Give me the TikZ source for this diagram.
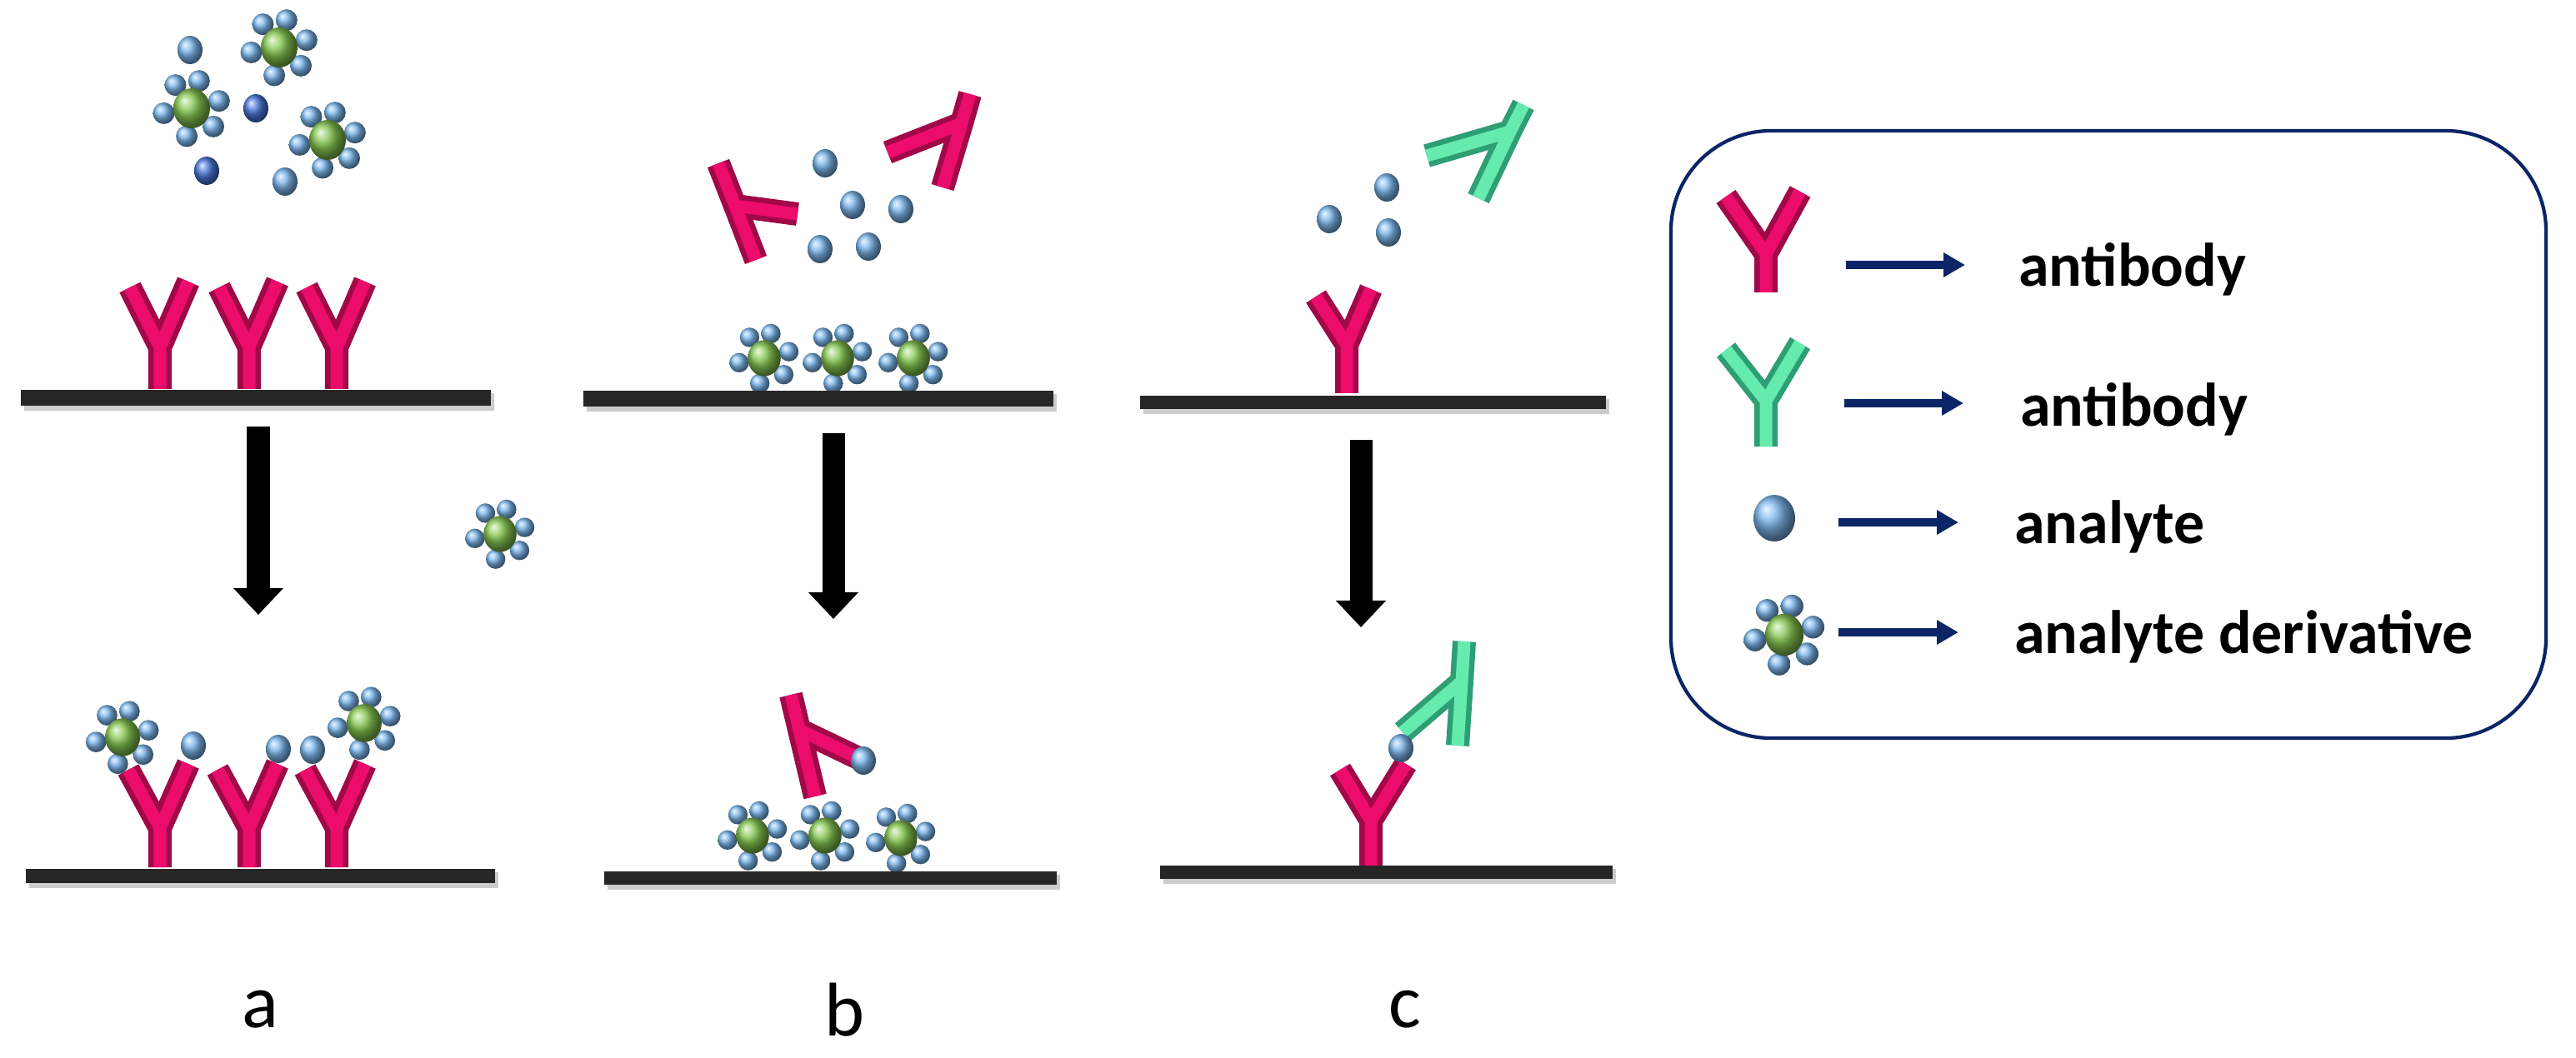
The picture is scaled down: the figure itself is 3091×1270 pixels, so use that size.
\documentclass[tikz,border=0pt]{standalone}
\usepackage{fontspec}
\setmainfont{Carlito}
\usetikzlibrary{arrows.meta}
\definecolor{abmain}{HTML}{EC0C6C}
\definecolor{abdark}{HTML}{A00848}
\definecolor{gbmain}{HTML}{66EBAE}
\definecolor{gbdark}{HTML}{2E9E74}
\definecolor{lblue}{HTML}{7DB8EE}
\definecolor{dblue}{HTML}{4A78DA}
\definecolor{dgreen}{HTML}{86C850}
\definecolor{navy}{HTML}{0B2566}
\newcommand\abody[5]{%
  \draw[line width=0.28cm,#1dark,line join=round] (#4)--(#2)--(#5) (#2)--(#3);
  \draw[line width=0.15cm,#1main,line join=round] (#4)--(#2)--(#5) (#2)--(#3);}
\newcommand\aball[2]{\shade[ball color=#2] (#1) ellipse [x radius=15,y radius=17];}
\newcommand\deriv[2]{\begin{scope}[shift={(#1)},scale=#2]
  \foreach \a in {100,40,-15,-75,-125,170}{\shade[ball color=lblue] (\a:34) circle [radius=13];}
  \shade[ball color=dgreen] (0,0) ellipse [x radius=22,y radius=24];
  \end{scope}}
\newcommand\sbar[4]{\fill[black!20] (#1+4,#3+4) rectangle (#2+4,#4+6);
  \fill[black!85] (#1,#3) rectangle (#2,#4);}
\tikzset{bigarrow/.style={line width=0.27cm,-{Triangle[length=0.32cm,width=0.58cm]}},
  legarrow/.style={navy,line width=0.1cm,-{Triangle[length=0.26cm,width=0.28cm]}},
  lab/.style={font=\fontsize{26}{30}\selectfont},
  leg/.style={font=\bfseries\fontsize{21}{24}\selectfont,anchor=west}}
\begin{document}
\begin{tikzpicture}[x=0.01cm,y=-0.01cm]
\useasboundingbox (0,0) rectangle (3091,1270);
% panel a
\deriv{230,130}{1}\deriv{335,57}{1}\deriv{393,168}{1}
\aball{228,60}{lblue}\aball{342,218}{lblue}\aball{307,130}{dblue}\aball{248,205}{dblue}
\foreach \x in {192,299,404}{\abody{ab}{\x,417}{\x,467}{\x-36,345}{\x+34,338}}
\sbar{25}{589}{468}{487}
\coordinate (a1) at (310,512); \coordinate (a2) at (310,738);
\draw[bigarrow] (a1)--(a2);
\deriv{600,641}{0.9}
\foreach \x in {192,299,404}{\abody{ab}{\x,994}{\x,1041}{\x-38,924}{\x+34,917}}
\deriv{147,885}{0.95}\deriv{437,868}{0.95}
\aball{232,895}{lblue}\aball{334,899}{lblue}\aball{375,900}{lblue}
\sbar{31}{594}{1043}{1060}
\node[lab] (la) at (312,1212) {a};
% panel b
\abody{ab}{882,247}{907,312}{862,196}{957,257}
\abody{ab}{1154,148}{1131,225}{1164,113}{1065,183}
\aball{990,196}{lblue}\aball{1023,246}{lblue}\aball{1081,251}{lblue}\aball{984,299}{lblue}\aball{1042,296}{lblue}
\deriv{917,430}{0.9}\deriv{1005,430}{0.9}\deriv{1096,430}{0.9}
\sbar{700}{1264}{469}{488}
\coordinate (b1) at (1000,520); \coordinate (b2) at (1000,743);
\draw[bigarrow] (b1)--(b2);
\abody{ab}{959,876}{978,956}{949,834}{1032,911}
\aball{1036,913}{lblue}
\deriv{903,1003}{0.9}\deriv{990,1003}{0.9}\deriv{1081,1006}{0.9}
\sbar{725}{1268}{1046}{1062}
\node[lab] (lb) at (1014,1212) {b};
% panel c
\abody{gb}{1812,158}{1774,238}{1828,126}{1712,187}
\aball{1595,263}{lblue}\aball{1664,225}{lblue}\aball{1666,279}{lblue}
\abody{ab}{1616,414}{1616,472}{1579,356}{1645,347}
\sbar{1368}{1927}{475}{491}
\coordinate (c1) at (1633,528); \coordinate (c2) at (1633,753);
\draw[bigarrow] (c1)--(c2);
\abody{gb}{1754,818}{1749,895}{1757,770}{1683,879}
\abody{ab}{1645,985}{1645,1039}{1608,924}{1687,917}
\aball{1681,898}{lblue}
\sbar{1392}{1935}{1039}{1055}
\node[lab] (lc) at (1686,1212) {c};
% legend
\draw[navy,line width=1.2pt,rounded corners=1.2cm] (2005,157) rectangle (3055,886);
\abody{ab}{2119,305}{2119,351}{2071,236}{2160,230}
\abody{gb}{2119,481}{2119,536}{2071,420}{2160,412}
\shade[ball color=lblue] (2129,622) ellipse [x radius=25,y radius=28];
\deriv{2141,762}{1.05}
\coordinate (l1s) at (2215,318); \coordinate (l1e) at (2358,318);
\coordinate (l2s) at (2213,484); \coordinate (l2e) at (2356,484);
\coordinate (l3s) at (2206,627); \coordinate (l3e) at (2350,627);
\coordinate (l4s) at (2206,759); \coordinate (l4e) at (2350,759);
\draw[legarrow] (l1s)--(l1e);
\draw[legarrow] (l2s)--(l2e);
\draw[legarrow] (l3s)--(l3e);
\draw[legarrow] (l4s)--(l4e);
\node[leg] (t1) at (2410,323) {antibody};
\node[leg] (t2) at (2412,491) {antibody};
\node[leg] (t3) at (2405,632) {analyte};
\node[leg] (t4) at (2405,764) {analyte derivative};
\end{tikzpicture}
\end{document}
